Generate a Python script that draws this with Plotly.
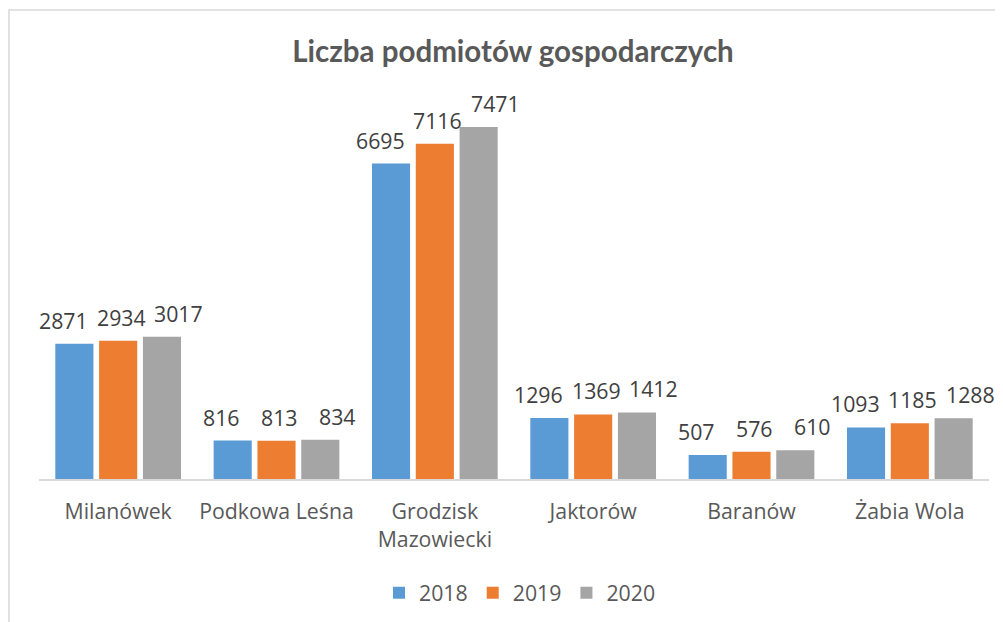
import plotly.graph_objects as go

categories = ["Milanówek", "Podkowa Leśna", "Grodzisk<br>Mazowiecki", "Jaktorów", "Baranów", "Żabia Wola"]
years = ["2018", "2019", "2020"]
values_2018 = [2871, 816, 6695, 1296, 507, 1093]
values_2019 = [2934, 813, 7116, 1369, 576, 1185]
values_2020 = [3017, 834, 7471, 1412, 610, 1288]
colors = ["#5B9BD5", "#ED7D31", "#A5A5A5"]
label_xshift = [-11, 3, 17]  # style: label nudges per series, like Excel's spreading

FONT = "Open Sans"
TITLE_FONT = "Lato"
FS = 21.3
BARGAP = 0.17
GROUPGAP = 0.13

fig = go.Figure()
series = [values_2018, values_2019, values_2020]
annotations = []
for j, (name, vals, col) in enumerate(zip(years, series, colors)):
    fig.add_trace(go.Bar(
        x=list(range(len(categories))), y=vals, name=name,
        marker=dict(color=col, line=dict(width=0)),
        hoverinfo="y+name",
    ))
    offset = (j - 1) * (1 - BARGAP) / 3
    for i, v in enumerate(vals):
        annotations.append(dict(
            x=i + offset, y=v, xref="x", yref="y", text=str(v), showarrow=False,
            yanchor="bottom", xanchor="center", yshift=7, xshift=label_xshift[j],
            font=dict(size=FS, color="#404040", family=FONT),
        ))

W, H = 995, 614
fig.update_layout(
    width=W, height=H,
    margin=dict(l=31, r=14, t=94, b=143, autoexpand=False),
    paper_bgcolor="white", plot_bgcolor="white",
    barmode="group", bargap=BARGAP, bargroupgap=GROUPGAP,
    title=dict(text="<b>Liczba podmiotów gospodarczych</b>", x=505 / W, xanchor="center",
               y=1 - 44 / H, yanchor="middle",
               font=dict(size=29.5, color="#595959", family=TITLE_FONT)),
    font=dict(family=FONT, color="#595959"),
    showlegend=True,
    legend=dict(orientation="h", x=(512 - 31) / 950, xanchor="center",
                y=(471 - 585) / 377, yanchor="middle",
                font=dict(size=FS, color="#595959", family=FONT),
                traceorder="normal", itemwidth=30),
    xaxis=dict(showline=True, linecolor="#D9D9D9", linewidth=1.5, ticks="",
               tickmode="array", tickvals=list(range(len(categories))), ticktext=categories,
               range=[-0.5, len(categories) - 0.5], ticklabelstandoff=13, automargin=False,
               tickfont=dict(size=FS, color="#595959", family=FONT), showgrid=False),
    yaxis=dict(range=[0, 8000], visible=False, showgrid=False, automargin=False),
    annotations=annotations,
    shapes=[dict(type="rect", xref="paper", yref="paper",
                 x0=(1 - 31) / 950, x1=(1010 - 31) / 950,
                 y0=(471 - 660) / 377, y1=(471 - 2) / 377,
                 line=dict(color="#D9D9D9", width=1.5), fillcolor="rgba(0,0,0,0)", layer="below")],
)
fig.write_html("out.html")
